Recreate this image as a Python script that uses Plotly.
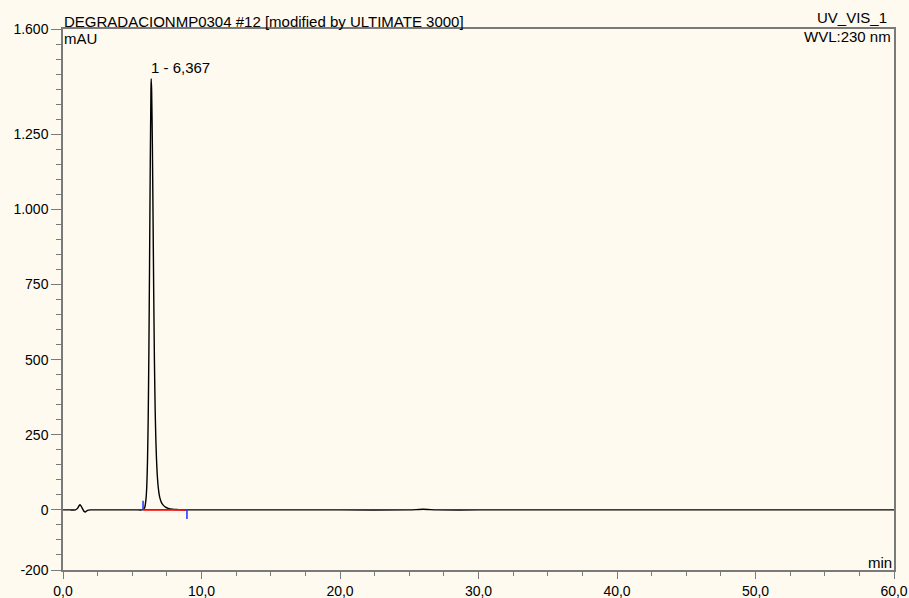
import plotly.graph_objects as go

# Chromatogram trace (retention time in min, signal in mAU)
time_min = [0.0, 0.5, 0.9, 1.05, 1.15, 1.23, 1.32, 1.42, 1.52, 1.62, 1.72, 1.85, 2.0, 2.5, 3.5,
            4.5, 5.3, 5.7, 5.8, 5.9, 6.0, 6.05, 6.1, 6.15, 6.2, 6.25, 6.3, 6.35, 6.367,
            6.4, 6.45, 6.5, 6.55, 6.6, 6.65, 6.7, 6.75, 6.8, 6.85, 6.9, 6.95, 7.0, 7.1, 7.25, 7.4,
            7.6, 7.9, 8.3, 9.0, 10.0, 15.0, 20.0, 25.0, 26.0, 27.0, 30.0, 35.0, 40.0,
            45.0, 50.0, 55.0, 60.0]
signal_mau = [0, 0, 0, 5, 13, 17, 12, 3, -5, -7, -3, -1, 0, 0, 0,
              0, 0, 0, 2, 8, 40, 80, 160, 300, 520, 820, 1150, 1395, 1435,
              1395, 1230, 980, 720, 500, 345, 240, 170, 120, 88, 66, 50, 39, 25, 15, 9,
              5, 2, 1, 0, 0, 0, 0, 0, 2, 0, 0, 0, 0,
              0, 0, 0, 0]

# Peak integration (baseline and delimiters)
peak_time = 6.367
peak_height = 1435
peak_label = "1 - 6,367"
baseline_t = [5.78, 8.95]
baseline_y = [0, 0]
delim_start_t = [5.78, 5.78]
delim_start_y = [0, 30]
delim_end_t = [8.95, 8.95]
delim_end_y = [0, -30]

# Axis ticks
x_tickvals = [0, 10, 20, 30, 40, 50, 60]
x_ticktext = ["0,0", "10,0", "20,0", "30,0", "40,0", "50,0", "60,0"]
y_tickvals = [-200, 0, 250, 500, 750, 1000, 1250, 1600]
y_ticktext = ["-200", "0", "250", "500", "750", "1.000", "1.250", "1.600"]

BG = "#FFFAEF"
AXC = "#7a7a7a"
FONT = "Liberation Sans, Arial, Helvetica, sans-serif"

fig = go.Figure()
fig.add_trace(go.Scatter(x=time_min, y=signal_mau, mode="lines",
                         line=dict(color="black", width=1.4, shape="spline", smoothing=0.6),
                         hoverinfo="skip"))
fig.add_trace(go.Scatter(x=baseline_t, y=baseline_y, mode="lines",
                         line=dict(color="#ff0000", width=1.6), hoverinfo="skip"))
fig.add_trace(go.Scatter(x=delim_start_t, y=delim_start_y, mode="lines",
                         line=dict(color="#2040ff", width=1.6), hoverinfo="skip"))
fig.add_trace(go.Scatter(x=delim_end_t, y=delim_end_y, mode="lines",
                         line=dict(color="#2040ff", width=1.6), hoverinfo="skip"))

ann_font = dict(size=15, color="black", family=FONT)
fig.add_annotation(x=peak_time, y=peak_height, text=peak_label, showarrow=False, borderpad=0,
                   xanchor="left", yanchor="middle", xshift=-1, yshift=11, font=ann_font)

fig.add_annotation(xref="paper", yref="paper", x=0, y=1, text="DEGRADACIONMP0304 #12 [modified by ULTIMATE 3000]",
                   showarrow=False, borderpad=0, xanchor="left", yanchor="middle", xshift=0, yshift=8, font=ann_font)
fig.add_annotation(xref="paper", yref="paper", x=0, y=1, text="mAU",
                   showarrow=False, borderpad=0, xanchor="left", yanchor="middle", xshift=0, yshift=-9, font=ann_font)
fig.add_annotation(xref="paper", yref="paper", x=1, y=1, text="UV_VIS_1",
                   showarrow=False, borderpad=0, xanchor="right", yanchor="middle", xshift=-6, yshift=12, font=ann_font)
fig.add_annotation(xref="paper", yref="paper", x=1, y=1, text="WVL:230 nm",
                   showarrow=False, borderpad=0, xanchor="right", yanchor="middle", xshift=-2, yshift=-7, font=ann_font)
fig.add_annotation(xref="paper", yref="paper", x=1, y=0, text="min",
                   showarrow=False, borderpad=0, xanchor="right", yanchor="middle", xshift=-1, yshift=8, font=ann_font)

fig.update_layout(
    width=909, height=598,
    margin=dict(l=63, r=15, t=29, b=28, pad=0, autoexpand=False),
    paper_bgcolor=BG, plot_bgcolor=BG,
    showlegend=False,
    font=dict(family=FONT, size=14, color="black"),
)
fig.update_xaxes(range=[0, 60], showgrid=False, zeroline=False, automargin=False,
                 showline=True, linecolor=AXC, linewidth=1.5, mirror=True,
                 tickmode="array", tickvals=x_tickvals, ticktext=x_ticktext,
                 ticks="outside", ticklen=7, tickwidth=1.3, tickcolor=AXC,
                 tickfont=dict(size=14, color="black", family=FONT),
                 minor=dict(tickmode="linear", tick0=0, dtick=2.5, ticks="outside",
                            ticklen=4, tickwidth=1.3, tickcolor=AXC, showgrid=False))
fig.update_yaxes(range=[-200, 1600], showgrid=False, zeroline=False, automargin=False,
                 showline=True, linecolor=AXC, linewidth=1.5, mirror=True,
                 tickmode="array", tickvals=y_tickvals, ticktext=y_ticktext,
                 ticks="outside", ticklen=10, tickwidth=1.3, tickcolor=AXC,
                 tickfont=dict(size=14, color="black", family=FONT),
                 minor=dict(tickmode="linear", tick0=-200, dtick=50, ticks="outside",
                            ticklen=5, tickwidth=1.3, tickcolor=AXC, showgrid=False))

fig.write_html("out.html", config={"displayModeBar": False},
               post_script="document.body.style.margin='0';document.body.style.background='%s';" % BG)
